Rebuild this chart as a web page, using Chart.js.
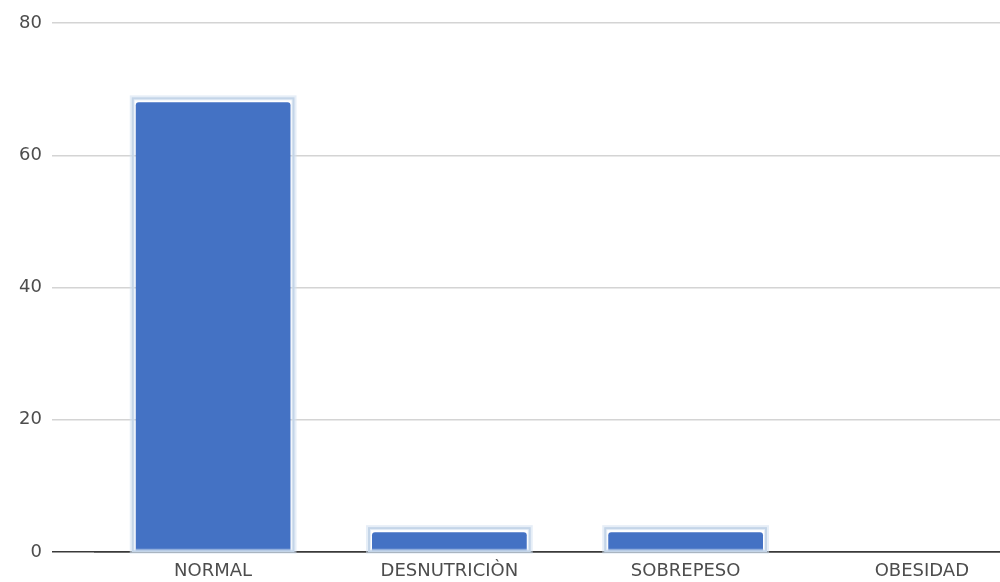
<!DOCTYPE html>
<html><head><meta charset="utf-8">
<script src="https://cdn.jsdelivr.net/npm/chart.js@4.4.0/dist/chart.umd.min.js"></script>
<style>
html,body{margin:0;padding:0;overflow:hidden;background:#fff;width:1000px;height:582px}
#wrap{position:absolute;left:0;top:0;width:1040px;height:582px}
</style>
</head><body><div id="wrap"><canvas id="c"></canvas></div>
<script>
const categories = ['NORMAL', 'DESNUTRICIÒN', 'SOBREPESO', 'OBESIDAD'];
const values = [68, 3, 3, 0];
const yTicks = [0, 20, 40, 60, 80];

const barRing = {
  id: 'barRing',
  afterDatasetsDraw(chart) {
    const ctx = chart.ctx;
    chart.getDatasetMeta(0).data.forEach(el => {
      const p = el.getProps(['x', 'y', 'base', 'width'], true);
      const h = p.base - p.y;
      if (h < 1) return;
      ctx.save();
      ctx.strokeStyle = 'rgba(210,224,240,0.55)';
      ctx.lineWidth = 5;
      ctx.strokeRect(p.x - p.width / 2 - 3.5, p.y - 4.5, p.width + 7, h + 4.5);
      ctx.strokeStyle = '#c4d5e8';
      ctx.lineWidth = 2;
      ctx.strokeRect(p.x - p.width / 2 - 3, p.y - 4, p.width + 6, h + 4);
      ctx.restore();
    });
  }
};

new Chart(document.getElementById('c'), {
  type: 'bar',
  data: {
    labels: categories,
    datasets: [{
      data: values,
      backgroundColor: '#4472c4',
      borderWidth: 0,
      borderRadius: 3,
      borderSkipped: 'bottom',
      barPercentage: 0.655,
      categoryPercentage: 1
    }]
  },
  options: {
    responsive: true,
    maintainAspectRatio: false,
    animation: false,
    layout: { padding: { top: 23, right: 0, left: 0, bottom: 0 } },
    plugins: { legend: { display: false }, tooltip: { enabled: false } },
    scales: {
      x: {
        z: 1,
        grid: { display: false, drawTicks: false },
        border: { display: true, color: '#3a3a3a', width: 1.5 },
        ticks: { color: '#4d4d4d', padding: 9, font: { family: 'DejaVu Sans', size: 18 } },
        afterFit(s) { s.height = 30; }
      },
      y: {
        min: yTicks[0],
        max: yTicks[yTicks.length - 1],
        afterBuildTicks(s) { s.ticks = yTicks.map(v => ({ value: v })); },
        grid: {
          color: c => (c.tick && c.tick.value === 0) ? '#3a3a3a' : '#d4d4d4',
          tickColor: c => (c.tick && c.tick.value === 0) ? '#3a3a3a' : '#d4d4d4',
          lineWidth: 1.5,
          tickLength: 43,
          drawTicks: true
        },
        border: { display: false },
        ticks: { color: '#4d4d4d', padding: 10, font: { family: 'DejaVu Sans', size: 18 } },
        afterFit(s) { s.width = 95; }
      }
    }
  },
  plugins: [barRing]
});
</script>
</body></html>
